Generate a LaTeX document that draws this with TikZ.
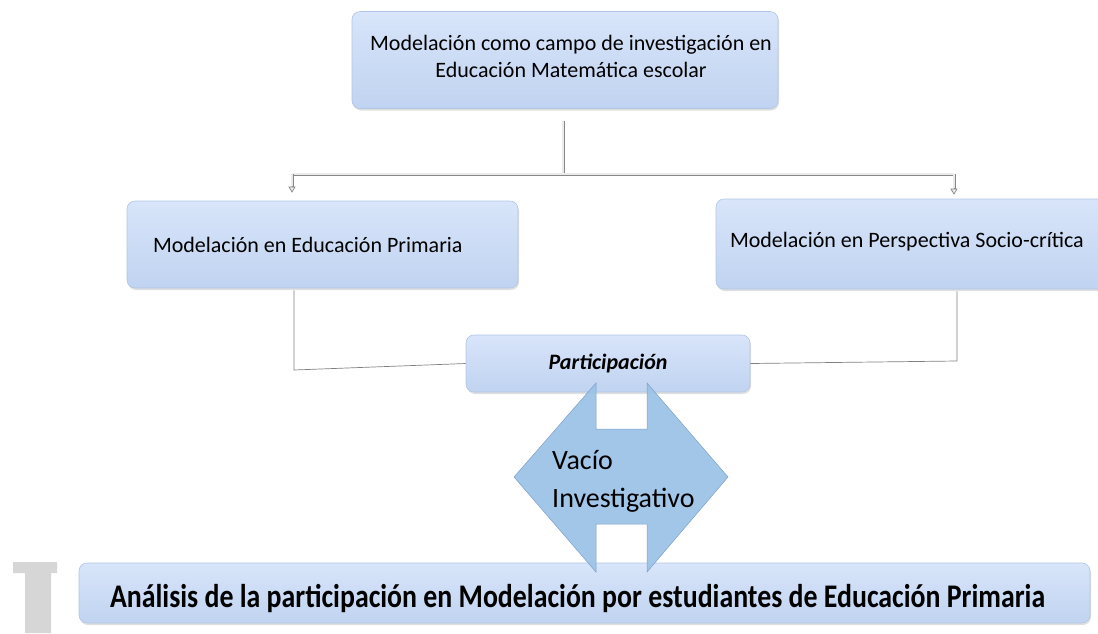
\documentclass[tikz,border=0pt]{standalone}
\usepackage{fontspec}
\setmainfont{Carlito}
\usetikzlibrary{arrows.meta,shadows}
\definecolor{boxtop}{RGB}{216,229,250}
\definecolor{boxbot}{RGB}{192,211,240}
\definecolor{boxedge}{RGB}{176,198,228}
\definecolor{arrowblue}{RGB}{157,195,230}
\definecolor{arrowedge}{RGB}{125,160,200}
\definecolor{conngray}{RGB}{135,135,135}
\definecolor{conninner}{RGB}{235,235,235}
\definecolor{ibar}{RGB}{214,214,214}
\newsavebox{\bottomtextbox}
\begin{document}
\begin{tikzpicture}[x=1pt,y=-1pt,
  boxnode/.style={rounded corners=8pt, top color=boxtop, bottom color=boxbot, draw=boxedge, line width=0.6pt,
    drop shadow={shadow xshift=1pt, shadow yshift=-2pt, opacity=0.25}, text=black},
  conn/.style={draw=conngray, line width=3pt, postaction={draw=conninner, line width=1.2pt}},
  tiparrow/.style={draw=conngray, line width=0.7pt, -{Triangle[length=6pt,width=7pt,fill=conninner]}},
  thinline/.style={draw=gray, line width=0.7pt},
  mainfont/.style={font=\fontsize{22}{27}\selectfont},
  sidefont/.style={font=\fontsize{22}{27}\selectfont},
]
\useasboundingbox (0,0) rectangle (1098,633);
\clip (0,0) rectangle (1098,633);

% decorative grey bar at the bottom left
\fill[ibar] (13,562) -- (57,562) -- (57,573) -- (51,573) -- (51,633) -- (25,633) -- (25,573) -- (13,573) -- cycle;

% boxes
\node[boxnode, minimum width=426pt, minimum height=97pt, mainfont] (top) at (565,60)
  {\hspace*{12pt}\raisebox{1pt}[\height][\depth]{\begin{tabular}{@{}c@{}}Modelación como campo de investigación en\\Educación Matemática escolar\end{tabular}}};

\node[boxnode, minimum width=391pt, minimum height=87pt, inner xsep=26pt, sidefont] (left) at (322.5,244.5)
  {\makebox[339pt][l]{Modelación en Educación Primaria}};

\node[boxnode, minimum width=394pt, minimum height=90pt, inner xsep=14pt, sidefont] (right) at (913,244)
  {\raisebox{2pt}[\height][\depth]{\makebox[366pt][l]{Modelación en Perspectiva Socio-crítica}}};

\node[boxnode, minimum width=284pt, minimum height=57pt, font=\fontsize{22}{26}\selectfont\bfseries\itshape] (part) at (608,363.5)
  {Participación};

\node[boxnode, minimum width=1011pt, minimum height=60pt, inner xsep=31pt, text height=28pt, text depth=0pt] (bottom) at (584.5,593)
  {\sbox{\bottomtextbox}{\fontsize{33}{40}\selectfont\bfseries Análisis de la participación en Modelación por estudiantes de Educación Primaria}%
   \makebox[949pt][l]{\resizebox{935pt}{\ht\bottomtextbox}{\usebox{\bottomtextbox}}}};

% connectors
\coordinate (split) at (563,174);
\coordinate (la) at (292,174);
\coordinate (ra) at (954,174);
\draw[conn] ([yshift=-12pt]top.south -| split) -- (split);
\draw[conn] (la) -- (ra);
\draw[conn] (la) -- ([yshift=14pt]la |- left.north);
\draw[tiparrow] ([yshift=15pt]la |- left.north) -- ([yshift=8pt]la |- left.north);
\draw[conn] (ra) -- ([yshift=10pt]ra |- right.north);
\draw[tiparrow] ([yshift=11pt]ra |- right.north) -- ([yshift=4pt]ra |- right.north);

\coordinate (lc) at (294,370);
\coordinate (rc) at (957,361);
\draw[thinline] ([yshift=-2pt]left.south -| lc) -- (lc) -- (part.west);
\draw[thinline] ([yshift=-2pt]right.south -| rc) -- (rc) -- (part.east);

% notched double arrow (research gap)
\fill[arrowblue, draw=arrowedge, line width=0.5pt, fill opacity=0.95]
  (596,383) -- (596,429) -- (647,429) -- (647,383) -- (728,477) -- (647,572) -- (647,524)
  -- (596,524) -- (596,572) -- (514,477) -- cycle;
\node[anchor=north west, align=left, inner sep=0pt, font=\fontsize{28}{38}\selectfont] (gap) at (552,450)
  {Vacío\\Investigativo};
\end{tikzpicture}
\end{document}
